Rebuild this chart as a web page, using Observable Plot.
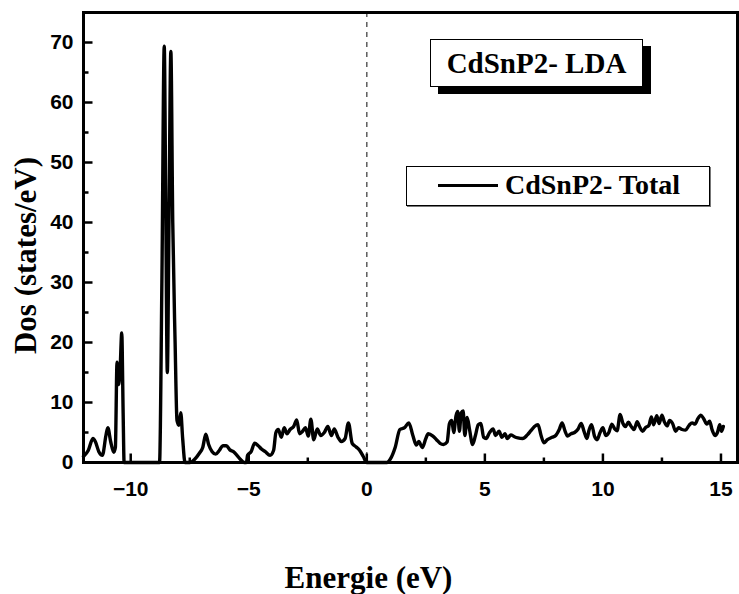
<!DOCTYPE html>
<html>
<head>
<meta charset="utf-8">
<script src="https://cdn.jsdelivr.net/npm/d3@7"></script>
<script src="https://cdn.jsdelivr.net/npm/@observablehq/plot@0.6"></script>
<style>
  html, body { margin: 0; padding: 0; background: white; }
  #wrap { position: relative; width: 739px; height: 594px; }
  .box1 { position: absolute; left: 430px; top: 39px; width: 211px; height: 46px; border: 1px solid #000; background: #fff;
          box-shadow: 8px 7px 0 #000; font: bold 29px "Liberation Serif", "Times New Roman", serif; display: flex; align-items: center; justify-content: center; }
  .box2 { position: absolute; left: 406px; top: 166px; width: 302px; height: 38px; border: 1px solid #000; background: #fff;
          box-shadow: 1px 1px 0 #777; font: bold 28px "Liberation Serif", "Times New Roman", serif; }
  .box2 .ln { position: absolute; left: 31px; top: 17px; width: 60px; height: 3px; background: #000; }
  .box2 .tx { position: absolute; left: 98px; top: 2px; white-space: nowrap; }
</style>
</head>
<body>
<div id="wrap"></div>
<script>
const energy = [-12.0,-11.8,-11.6,-11.5,-11.35,-11.2,-11.05,-10.97,-10.85,-10.72,-10.65,-10.58,-10.51,-10.45,-10.38,-10.32,-10.28,-10.0,-9.5,-9.0,-8.78,-8.68,-8.58,-8.52,-8.45,-8.38,-8.3,-8.22,-8.12,-8.04,-7.96,-7.88,-7.8,-7.7,-7.5,-7.3,-7.1,-6.95,-6.82,-6.7,-6.55,-6.4,-6.25,-6.1,-5.95,-5.8,-5.65,-5.5,-5.35,-5.2,-5.1,-5.05,-4.9,-4.75,-4.6,-4.45,-4.3,-4.1,-3.95,-3.85,-3.75,-3.62,-3.5,-3.38,-3.25,-3.1,-2.97,-2.85,-2.72,-2.6,-2.48,-2.37,-2.25,-2.1,-1.95,-1.8,-1.65,-1.5,-1.38,-1.22,-1.08,-0.92,-0.78,-0.62,-0.45,-0.3,-0.15,0.0,0.5,0.85,1.0,1.2,1.4,1.6,1.78,1.95,2.1,2.2,2.35,2.5,2.6,2.8,2.95,3.1,3.25,3.4,3.5,3.6,3.68,3.78,3.85,3.92,4.0,4.08,4.15,4.25,4.35,4.48,4.6,4.72,4.83,4.95,5.05,5.2,5.35,5.45,5.6,5.72,5.85,5.95,6.1,6.25,6.4,6.6,6.8,6.95,7.1,7.25,7.38,7.5,7.65,7.85,8.0,8.15,8.27,8.4,8.5,8.65,8.8,8.95,9.08,9.2,9.32,9.42,9.52,9.65,9.75,9.88,10.0,10.12,10.25,10.38,10.5,10.6,10.73,10.85,10.95,11.08,11.2,11.32,11.45,11.55,11.68,11.8,11.95,12.05,12.15,12.28,12.38,12.5,12.6,12.72,12.82,12.95,13.08,13.2,13.35,13.5,13.65,13.78,13.9,14.02,14.15,14.28,14.4,14.52,14.62,14.75,14.85,14.95,15.02,15.1];
const dos = [1.0,2.0,4.0,3.5,1.8,1.2,4.5,5.8,3.5,1.7,2.5,16.7,13.0,15.5,21.6,8,0,0,0,0,0,30,69.4,45,15.0,40,68.5,40,20,7.0,6.2,8.3,4,0,0,0.5,1.5,2.5,4.7,3,1.8,1.4,2.0,2.8,2.8,2.1,1.8,1.2,0.5,0,0,1.2,1.8,3.2,2.8,2.2,1.8,1.2,2,5,5.5,4.2,5.8,4.8,5.5,6.0,7.1,4.8,5.2,5.8,4.4,7.2,3.8,5.6,4.5,5.0,6.0,4.5,5.6,4.2,3.5,4.0,6.6,3.2,2.6,2.0,1.0,0,0,0,0.6,2.5,5.5,5.8,6.6,4.5,2.9,3.5,2.5,4.0,4.8,4.4,3.8,3.2,3.0,3.4,6.5,7.0,5.0,7.8,8.5,5.2,8.3,8.6,4.5,7.5,5.5,3.0,4.5,6.3,6.5,4.2,4.0,5.0,5.6,4.5,5.2,4.2,4.8,4.0,4.6,4.3,4.1,4.0,4.6,5.3,6.0,6.3,4.5,3.3,3.8,4.2,4.5,5.5,6.6,5.2,4.4,4.8,5.0,5.6,6.5,5.2,4.0,5.5,6.3,4.3,3.8,5.0,5.8,4.5,5.0,6.4,5.6,5.3,8.0,6.5,6.0,6.7,6.0,5.5,6.8,6.0,5.2,5.8,6.2,7.6,6.3,7.8,6.5,7.9,6.8,6.1,7.0,6.5,5.2,5.8,5.5,5.4,6.2,6.6,6.4,7.3,7.9,7.2,6.4,6.9,5.5,4.5,5.0,6.3,5.2,6.0];
const xMajor = [-10, -5, 0, 5, 10, 15];
const xMinor = [-7.5, -2.5, 2.5, 7.5, 12.5];
const yMajor = [0, 10, 20, 30, 40, 50, 60, 70];
const yMinor = [5, 15, 25, 35, 45, 55, 65];
const fermi = [0];
const xTitle = "Energie (eV)";
const yTitle = "Dos (states/eV)";
const titleText = "CdSnP2- LDA";
const seriesName = "CdSnP2- Total";

const data = energy.map((e, i) => ({e, d: dos[i]}));
const serif = "'Liberation Serif', 'Times New Roman', serif";
const tickShape = {draw(ctx, l) { ctx.moveTo(0, 0); ctx.lineTo(0, -l); }};

const chart = Plot.plot({
  width: 739, height: 594,
  marginLeft: 83, marginRight: 2, marginTop: 12, marginBottom: 132,
  x: {domain: [-12, 15.7]},
  y: {domain: [0, 75]},
  style: {fontFamily: "'Liberation Sans', Arial, sans-serif", fontSize: "21px", fontWeight: "bold", background: "white", color: "black", overflow: "visible"},
  marks: [
    Plot.ruleX(fermi, {stroke: "#444", strokeWidth: 1.3, strokeDasharray: "5,5"}),
    Plot.line(data, {x: "e", y: "d", stroke: "black", strokeWidth: 3.4, curve: "monotone-x"}),
    Plot.frame({stroke: "black", strokeWidth: 3}),
    Plot.vector(xMajor, {x: d => d, frameAnchor: "bottom", length: 9, rotate: 0, anchor: "start", shape: tickShape, strokeWidth: 2.5, strokeLinecap: "butt"}),
    Plot.vector(xMinor, {x: d => d, frameAnchor: "bottom", length: 5, rotate: 0, anchor: "start", shape: tickShape, strokeWidth: 2.5, strokeLinecap: "butt"}),
    Plot.vector(yMajor, {y: d => d, frameAnchor: "left", length: 9, rotate: 90, anchor: "start", shape: tickShape, strokeWidth: 2.5, strokeLinecap: "butt"}),
    Plot.vector(yMinor, {y: d => d, frameAnchor: "left", length: 5, rotate: 90, anchor: "start", shape: tickShape, strokeWidth: 2.5, strokeLinecap: "butt"}),
    Plot.axisX({ticks: xMajor, tickSize: 0, tickPadding: 19, label: null}),
    Plot.axisY({ticks: yMajor, tickSize: 0, tickPadding: 10, label: null}),
    Plot.text([xTitle], {text: d => d, frameAnchor: "bottom", textAnchor: "middle", lineAnchor: "middle", dx: -42, dy: 116, fontFamily: serif, fontSize: 31, fontWeight: "bold"}),
    Plot.text([yTitle], {text: d => d, frameAnchor: "left", textAnchor: "middle", lineAnchor: "middle", dx: -57, dy: 18, rotate: -90, fontFamily: serif, fontSize: 31, fontWeight: "bold"})
  ]
});

const wrap = document.getElementById("wrap");
wrap.appendChild(chart);
const b1 = document.createElement("div");
b1.className = "box1";
b1.textContent = titleText;
wrap.appendChild(b1);
const b2 = document.createElement("div");
b2.className = "box2";
const ln = document.createElement("div"); ln.className = "ln";
const tx = document.createElement("div"); tx.className = "tx"; tx.textContent = seriesName;
b2.appendChild(ln); b2.appendChild(tx);
wrap.appendChild(b2);
</script>
</body>
</html>
